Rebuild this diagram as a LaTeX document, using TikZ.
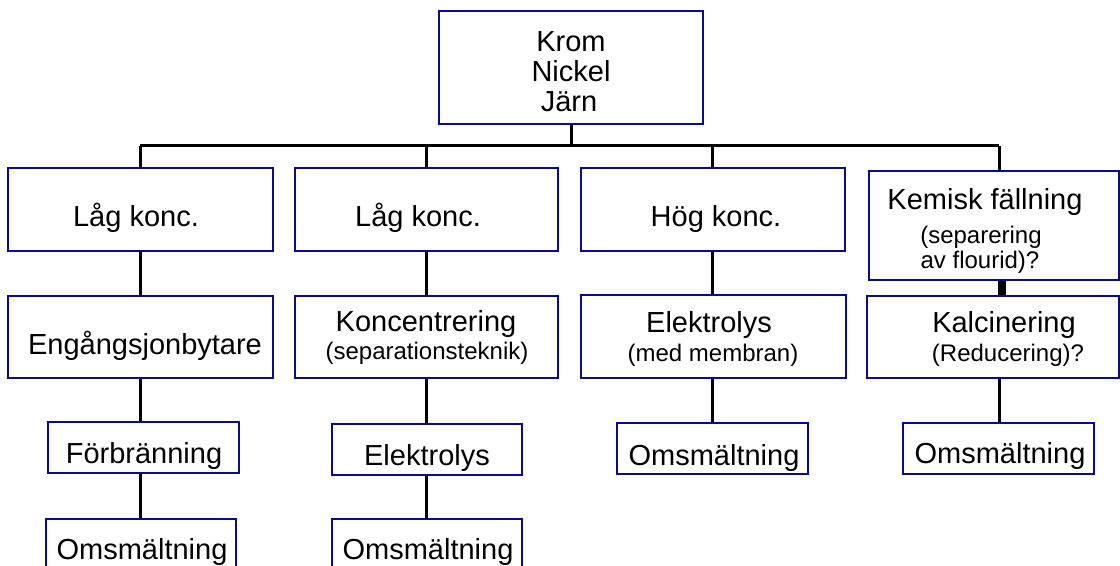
\documentclass[tikz,border=0pt]{standalone}
\usepackage{fontspec}
\setmainfont{Liberation Sans}
\usetikzlibrary{fit}
\definecolor{boxblue}{RGB}{10,10,145}
\tikzset{
  box/.style={draw=boxblue, line width=1.5pt, fill=white, inner sep=0pt, rectangle},
  big/.style={font=\fontsize{21.75}{22.5}\selectfont, inner sep=0pt, anchor=base},
  small/.style={font=\fontsize{18}{18}\selectfont, inner sep=0pt, anchor=base},
  link/.style={line width=2.25pt, draw=black},
  thicklink/.style={line width=6pt, draw=black}
}
\begin{document}
\begin{tikzpicture}[x=0.75pt, y=-0.75pt]
\useasboundingbox (0,0) rectangle (1120,566);
\fill[white] (0,0) rectangle (1120,566);
\clip (0,0) rectangle (1120,566);

% box corners
\path
  (440,12) coordinate (ta) (702,123) coordinate (tb)
  (9,169) coordinate (a11) (272,250) coordinate (b11)
  (296,169) coordinate (a12) (557,250) coordinate (b12)
  (582,169) coordinate (a13) (844,250) coordinate (b13)
  (870,172) coordinate (a14) (1118,279) coordinate (b14)
  (9,297) coordinate (a21) (272,377) coordinate (b21)
  (296,297) coordinate (a22) (557,377) coordinate (b22)
  (582,296) coordinate (a23) (845,377) coordinate (b23)
  (868,297) coordinate (a24) (1118,377) coordinate (b24)
  (49,423) coordinate (a31) (238,472) coordinate (b31)
  (333,425) coordinate (a32) (521,474) coordinate (b32)
  (618,424) coordinate (a33) (807,473) coordinate (b33)
  (904,424) coordinate (a34) (1093,473) coordinate (b34)
  (47,520) coordinate (a41) (235,580) coordinate (b41)
  (333,520) coordinate (a42) (521,580) coordinate (b42);

\node[box, draw=none, fill=none, fit=(ta)(tb)] (top) {};
\node[box, draw=none, fill=none, fit=(a11)(b11)] (r1c1) {};
\node[box, draw=none, fill=none, fit=(a12)(b12)] (r1c2) {};
\node[box, draw=none, fill=none, fit=(a13)(b13)] (r1c3) {};
\node[box, draw=none, fill=none, fit=(a14)(b14)] (r1c4) {};
\node[box, draw=none, fill=none, fit=(a21)(b21)] (r2c1) {};
\node[box, draw=none, fill=none, fit=(a22)(b22)] (r2c2) {};
\node[box, draw=none, fill=none, fit=(a23)(b23)] (r2c3) {};
\node[box, draw=none, fill=none, fit=(a24)(b24)] (r2c4) {};
\node[box, draw=none, fill=none, fit=(a31)(b31)] (r3c1) {};
\node[box, draw=none, fill=none, fit=(a32)(b32)] (r3c2) {};
\node[box, draw=none, fill=none, fit=(a33)(b33)] (r3c3) {};
\node[box, draw=none, fill=none, fit=(a34)(b34)] (r3c4) {};
\node[box, draw=none, fill=none, fit=(a41)(b41)] (r4c1) {};
\node[box, draw=none, fill=none, fit=(a42)(b42)] (r4c2) {};

% column axes on the bus line
\coordinate (xt) at (571,146);
\coordinate (x1) at (140,146);
\coordinate (x2) at (426,146);
\coordinate (x3) at (712,146);
\coordinate (x4) at (999,146);
\coordinate (x4b) at (1002,146);

% connectors
\draw[link] (x1) -- (x4);
\draw[link] (top.south -| xt) -- (xt);
\draw[link] (x1) -- (r1c1.north -| x1);
\draw[link] (x2) -- (r1c2.north -| x2);
\draw[link] (x3) -- (r1c3.north -| x3);
\draw[link] (x4) -- (r1c4.north -| x4);

\draw[link] (r1c1.south -| x1) -- (r2c1.north -| x1);
\draw[link] (r2c1.south -| x1) -- (r3c1.north -| x1);
\draw[link] (r3c1.south -| x1) -- (r4c1.north -| x1);

\draw[link] (r1c2.south -| x2) -- (r2c2.north -| x2);
\draw[link] (r2c2.south -| x2) -- (r3c2.north -| x2);
\draw[link] (r3c2.south -| x2) -- (r4c2.north -| x2);

\draw[link] (r1c3.south -| x3) -- (r2c3.north -| x3);
\draw[link] (r2c3.south -| x3) -- (r3c3.north -| x3);

\draw[thicklink] (r1c4.south -| x4b) -- (r2c4.north -| x4b);
\draw[link] (r2c4.south -| x4) -- (r3c4.north -| x4);

% boxes drawn on top
\foreach \n in {top,r1c1,r1c2,r1c3,r1c4,r2c1,r2c2,r2c3,r2c4,r3c1,r3c2,r3c3,r3c4,r4c1,r4c2}{
  \draw[draw=boxblue, line width=1.5pt, fill=white] (\n.north west) rectangle (\n.south east);
}

% texts
\node[big] (t0a) at (571,52) {Krom};
\node[big] (t0b) at (571,82) {Nickel};
\node[big] (t0c) at (569,112) {Järn};

\node[big] (t11) at (136,227) {Låg konc.};
\node[big] (t12) at (418,227) {Låg konc.};
\node[big] (t13) at (716,227) {Hög konc.};
\node[big] (t14a) at (985,210) {Kemisk fällning};
\node[small] (t14b) at (981,244) {(separering};
\node[small] (t14c) at (980,269) {av flourid)?};

\node[big] (t21) at (145,354) {Engångsjonbytare};
\node[big] (t22a) at (426,332) {Koncentrering};
\node[small] (t22b) at (427,359) {(separationsteknik)};
\node[big] (t23a) at (709,333) {Elektrolys};
\node[small] (t23b) at (713,361) {(med membran)};
\node[big] (t24a) at (1004,333) {Kalcinering};
\node[small] (t24b) at (1008,361) {(Reducering)?};

\node[big] (t31) at (144,463) {Förbränning};
\node[big] (t32) at (427,465) {Elektrolys};
\node[big] (t33) at (714,465) {Omsmältning};
\node[big] (t34) at (1000,463) {Omsmältning};

\node[big] (t41) at (142,559) {Omsmältning};
\node[big] (t42) at (428,559) {Omsmältning};
\end{tikzpicture}
\end{document}
